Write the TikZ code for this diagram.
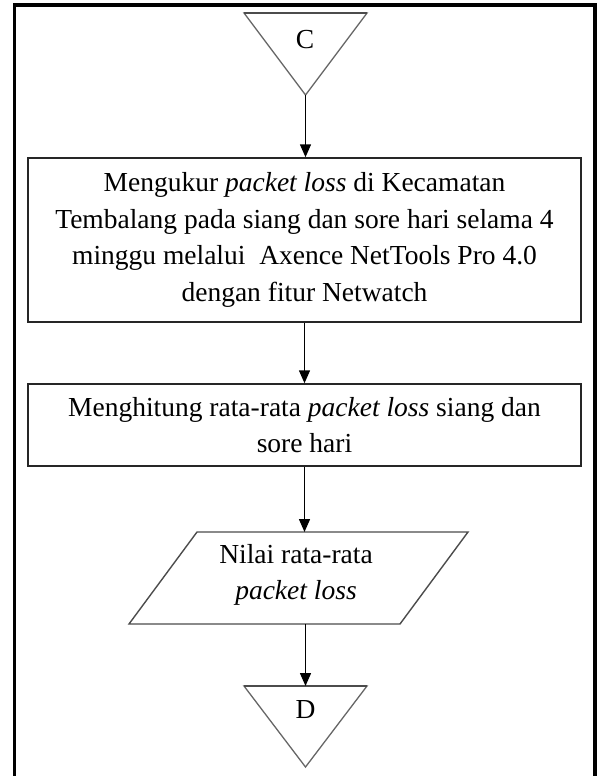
\documentclass[tikz,border=0pt]{standalone}
\usepackage{fontspec}
\setmainfont{Liberation Serif}
\usetikzlibrary{arrows.meta,calc}
\begin{document}
\begin{tikzpicture}[x=1pt,y=-1pt,
  every node/.style={font=\fontsize{27.5}{36.5}\selectfont, text=black},
  procbox/.style={draw=black!85, line width=1.5pt, minimum width=553pt, inner sep=0pt, align=center},
  shapebox/.style={inner sep=0pt, outer sep=0pt},
  conn/.style={draw=black, line width=1.5pt, -{Triangle[length=13pt,width=11pt]}},
  tri/.style={draw=black!60, line width=1.3pt, line join=miter},
  triTop/.style={draw=black!70, line width=2.2pt}]
\useasboundingbox (0,0) rectangle (597,776);
% outer frame
\draw[line width=3.6pt] (14.5,800) -- (14.5,5.3) -- (595,5.3) -- (595,800);
% connector C
\node[shapebox, minimum width=123pt, minimum height=82pt] (C) at (305.5,54) {};
\draw[tri] (C.north west) -- (C.north east) -- (C.south) -- cycle;
\draw[triTop] (C.north west) -- (C.north east);
\node (Clabel) at (305,40) {C};
% process 1
\node[procbox, minimum height=164pt] (box1) at (304.5,240)
  {Mengukur \textit{packet loss} di Kecamatan\\
   Tembalang pada siang dan sore hari selama 4\\
   minggu melalui \ Axence NetTools Pro 4.0\\
   dengan fitur Netwatch};
% process 2
\node[procbox, minimum height=82pt] (box2) at (304.5,425)
  {Menghitung rata-rata \textit{packet loss} siang dan\\
   sore hari};
% data parallelogram
\node[shapebox, minimum width=339pt, minimum height=92pt] (para) at (298.5,578) {};
\draw[draw=black!70, line width=1.4pt, line join=miter]
  (para.south west) -- ($(para.north west)+(68,0)$) -- (para.north east)
  -- ($(para.south east)+(-68,0)$) -- cycle;
\node[align=center] (paratext) at (296,575) {Nilai rata-rata\\ \textit{packet loss}};
% connector D
\node[shapebox, minimum width=123pt, minimum height=81pt] (D) at (305.5,726.5) {};
\draw[tri] (D.north west) -- (D.north east) -- (D.south) -- cycle;
\draw[triTop] (D.north west) -- (D.north east);
\node (Dlabel) at (305.5,710) {D};
% connectors
\draw[conn] (C.south) -- (C.south |- box1.north);
\draw[conn] (box1.south) -- (box2.north);
\draw[conn] (box2.south) -- (box2.south |- para.north);
\draw[conn] (para.south -| D.north) -- (D.north);
\end{tikzpicture}
\end{document}
